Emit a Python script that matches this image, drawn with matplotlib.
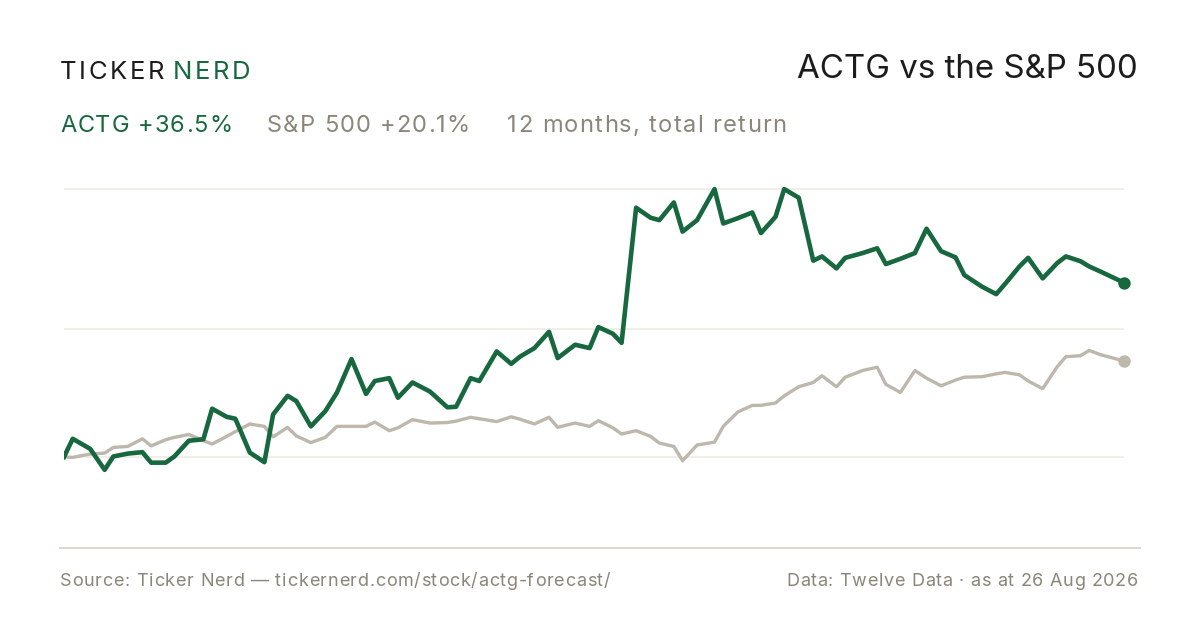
import matplotlib
matplotlib.use("Agg")
import matplotlib.pyplot as plt
from matplotlib.lines import Line2D

# 12 months total return, ACTG vs S&P 500
days = [0, 3, 9, 14, 17, 22, 27, 30, 35, 38,
        43, 48, 51, 56, 59, 64, 69, 72, 77, 80,
        85, 90, 94, 99, 104, 107, 112, 115, 120, 126,
        132, 135, 140, 143, 149, 154, 157, 162, 167, 170,
        176, 181, 184, 189, 192, 197, 202, 205, 210, 213,
        218, 224, 227, 232, 237, 240, 245, 248, 253, 258,
        261, 266, 269, 275, 280, 283, 288, 293, 297, 302,
        307, 310, 316, 321, 324, 329, 332, 337, 342, 345,
        350, 353, 357, 365]

actg = [0.0, 3.8, 1.7, -2.7, 0.1, 0.7, 1.0, -1.2, -1.2, 0.1,
        3.4, 3.7, 10.1, 8.4, 8.0, 0.9, -1.1, 8.9, 12.8, 11.7,
        6.4, 9.6, 13.5, 20.5, 13.2, 15.9, 16.5, 12.4, 15.6, 13.7,
        10.4, 10.5, 16.5, 15.9, 22.1, 19.5, 21.0, 22.8, 26.2, 20.7,
        23.5, 22.8, 27.2, 25.8, 23.9, 52.2, 50.1, 49.6, 53.3, 47.2,
        49.6, 56.1, 48.9, 50.0, 51.2, 46.9, 50.3, 56.1, 54.3, 41.1,
        42.0, 39.5, 41.7, 42.7, 43.7, 40.4, 41.5, 42.7, 47.8, 43.1,
        41.8, 38.1, 35.7, 34.1, 36.2, 39.9, 41.7, 37.4, 40.6, 42.0,
        41.0, 39.9, 38.8, 36.5]

spx = [0.0, -0.1, 0.6, 0.8, 2.0, 2.2, 3.8, 2.3, 3.6, 4.1,
       4.7, 3.4, 2.7, 4.3, 5.3, 6.9, 6.4, 4.2, 6.2, 4.4,
       3.0, 4.1, 6.4, 6.4, 6.4, 7.3, 5.5, 6.1, 7.8, 7.1,
       7.2, 7.5, 8.3, 8.0, 7.4, 8.4, 7.9, 6.9, 8.3, 6.2,
       7.1, 6.4, 7.6, 6.1, 4.8, 5.5, 4.3, 2.9, 2.2, -0.8,
       2.5, 3.1, 6.4, 9.4, 10.8, 10.8, 11.3, 12.8, 14.7, 15.6,
       17.0, 14.7, 16.7, 18.1, 18.8, 15.2, 13.5, 18.1, 16.5, 14.9,
       16.1, 16.7, 16.8, 17.4, 17.7, 17.2, 15.9, 14.3, 18.9, 21.0,
       21.2, 22.3, 21.4, 20.1]

grid_vals = [0, 26.8, 56.1]

GREEN = "#17683f"
GRAY = "#bdb7ac"
TEXT_GRAY = "#8b8679"
DARK = "#1c1c1c"
GRID = "#edeae4"
RULE = "#dcd8cd"

plt.rcParams['font.family'] = ['Inter', 'DejaVu Sans']

W, H = 1200, 630
fig = plt.figure(figsize=(12, 6.3), dpi=100)
fig.patch.set_facecolor("white")
renderer = fig.canvas.get_renderer()


def fx(x):
    return x / W


def fy(y):
    return 1 - y / H


def text_w(s, size):
    # width incl. trailing spaces: measure against a bar glyph
    t1 = fig.text(0, 0, s + "|", fontsize=size)
    t2 = fig.text(0, 0, "|", fontsize=size)
    w = t1.get_window_extent(renderer).width - t2.get_window_extent(renderer).width
    t1.remove()
    t2.remove()
    return w


def tracked(x, y, s, size, color, track, ha="left"):
    # draw text char by char with extra letter spacing (pixels)
    if ha == "right":
        x = x - (text_w(s, size) + (len(s) - 1) * track)
    for i, ch in enumerate(s):
        if ch == " ":
            continue
        cx = x + (text_w(s[:i], size) if i else 0) + i * track
        fig.text(fx(cx), fy(y), ch, fontsize=size, color=color,
                 ha="left", va="baseline")
    return x + text_w(s, size) + (len(s) - 1) * track


# plot area (pixel box 64..1124 x 170..540)
ax = fig.add_axes([fx(64), fy(540), (1124 - 64) / W, (540 - 170) / H])
ax.set_xlim(0, 365)
ax.set_ylim(-17.4, 60.1)
ax.axis("off")

for g in grid_vals:
    ax.axhline(g, color=GRID, lw=1.1, zorder=1)

ax.plot(days, spx, color=GRAY, lw=2.4, zorder=2)
ax.plot(days, actg, color=GREEN, lw=3.3, zorder=3)
ax.scatter([days[-1]], [spx[-1]], s=80, color=GRAY, zorder=4, clip_on=False, linewidths=0)
ax.scatter([days[-1]], [actg[-1]], s=80, color=GREEN, zorder=5, clip_on=False, linewidths=0)

# bottom rule
fig.add_artist(Line2D([fx(60), fx(1140)], [fy(548), fy(548)],
                      transform=fig.transFigure, color=RULE, lw=1.5))

# logo with letter spacing
x = 60
for word, col in [("TICKER", DARK), ("NERD", GREEN)]:
    for ch in word:
        t = fig.text(fx(x), fy(79), ch, fontsize=18.5, color=col,
                     ha="left", va="baseline")
        x += t.get_window_extent(renderer).width + 2.6
    x += 6

fig.text(fx(1138), fy(78), "ACTG vs the S&P 500", fontsize=23.8, color=DARK,
         ha="right", va="baseline")

# subtitle row
tracked(60, 132, "ACTG +36.5%", 17, GREEN, 1.0)
tracked(267, 132, "S&P 500 +20.1%", 17, TEXT_GRAY, 1.2)
tracked(507, 132, "12 months, total return", 17, TEXT_GRAY, 1.35)

# footer
tracked(60, 586, "Source: Ticker Nerd \u2014 tickernerd.com/stock/actg-forecast/",
        13, TEXT_GRAY, 0.72)
tracked(1138, 586, "Data: Twelve Data \u00b7 as at 26 Aug 2026",
        13, TEXT_GRAY, 0.66, ha="right")

fig.savefig("out.png", dpi=100, facecolor="white")
